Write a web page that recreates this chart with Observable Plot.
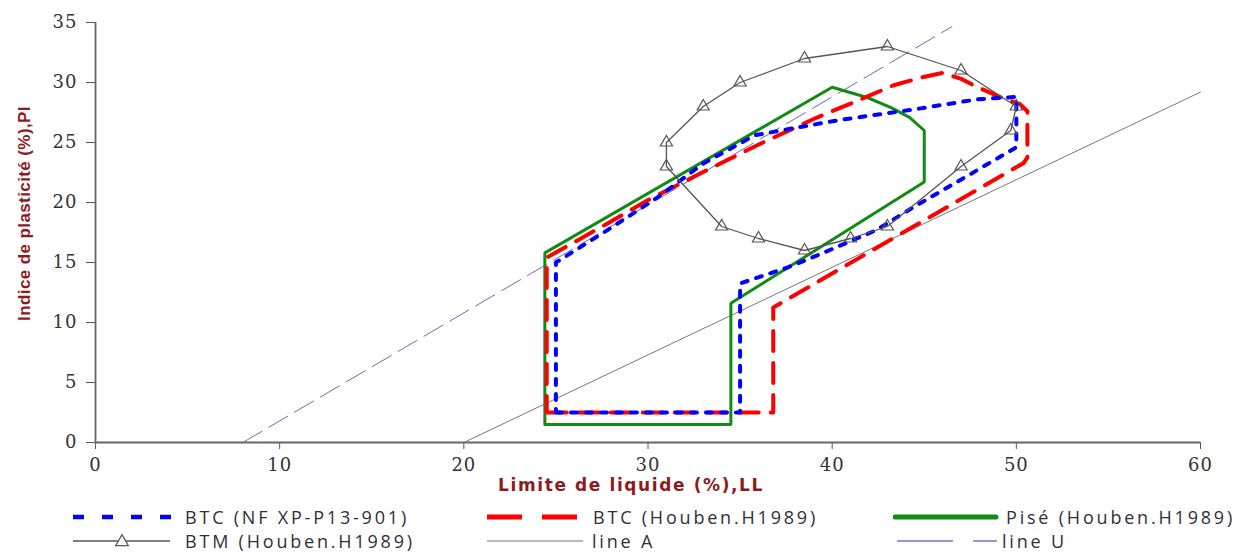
<!DOCTYPE html>
<html>
<head>
<meta charset="utf-8">
<script src="https://cdn.jsdelivr.net/npm/d3@7"></script>
<script src="https://cdn.jsdelivr.net/npm/@observablehq/plot@0.6"></script>
<style>
  html, body { margin: 0; padding: 0; background: #fff; }
  #wrap { position: relative; width: 1239px; height: 553px; overflow: hidden; }
  #legend { position: absolute; left: 0; top: 500px; width: 1239px; height: 53px;
            font-family: "Open Sans", sans-serif; font-size: 18px; color: #2f3038; letter-spacing: 2.8px; }
  .item { position: absolute; height: 24px; }
  .item svg { display: block; }
  .item span { position: absolute; white-space: nowrap; }
</style>
</head>
<body>
<div id="wrap">
  <div id="chart"></div>
  <div id="legend"></div>
</div>
<script>
// ---- Data ----
const xTicks = [0, 10, 20, 30, 40, 50, 60];
const yTicks = [0, 5, 10, 15, 20, 25, 30, 35];

// BTC (NF XP-P13-901) – blue dotted
const btcNF_LL = [25, 35, 35, 37.6, 39.2, 42.4, 44.4, 47.1, 50, 50, 47.9, 44.2, 40.5, 38.1, 35.8, 33, 30.5, 27.8, 25, 25];
const btcNF_PI = [2.5, 2.5, 13.25, 14.6, 15.6, 17.7, 19.6, 22, 24.6, 28.8, 28.6, 27.7, 26.9, 26.25, 25.6, 23.25, 20.4, 17.7, 15, 2.5];

// BTC (Houben.H1989) – red dashed
const btcH_LL = [24.5, 36.8, 36.8, 50.4, 50.6, 50.6, 50.2, 49.1, 47.9, 47, 46, 44.8, 43.3, 41.4, 39.2, 36.1, 33.2, 30, 27.8, 24.5, 24.5];
const btcH_PI = [2.5, 2.5, 11.25, 23.3, 23.75, 27.6, 28.2, 28.8, 29.6, 30.3, 30.8, 30.4, 29.75, 28.5, 27.1, 24.9, 22.7, 20.2, 18.25, 15.4, 2.5];

// Pisé (Houben.H1989) – green solid
const pise_LL = [24.4, 34.5, 34.5, 45, 45, 44.2, 43.2, 41.9, 40, 24.4, 24.4];
const pise_PI = [1.5, 1.5, 11.6, 21.7, 26, 27.1, 27.9, 28.75, 29.6, 15.8, 1.5];

// BTM (Houben.H1989) – grey line with triangles
const btm_LL = [31, 34, 36, 38.5, 41, 43, 47, 49.7, 50, 47, 43, 38.5, 35, 33, 31, 31];
const btm_PI = [23, 18, 17, 16, 17, 18, 23, 26, 28, 31, 33, 32, 30, 28, 25, 23];

// line A and line U
const lineA_LL = [20, 60];
const lineA_PI = [0, 29.2];
const lineU_LL = [8, 46.5];
const lineU_PI = [0, 34.65];

const legendLabels = ["BTC (NF XP-P13-901)", "BTC (Houben.H1989)", "Pisé (Houben.H1989)",
                      "BTM (Houben.H1989)", "line A", "line U"];

// ---- helpers ----
const rows = (xs, ys) => xs.map((x, i) => ({x, y: ys[i]}));
const btmPts = rows(btm_LL, btm_PI);
const serif = "'DejaVu Serif', 'Liberation Serif', serif";

const chart = Plot.plot({
  width: 1239,
  height: 500,
  marginLeft: 95,
  marginRight: 39,
  marginTop: 22,
  marginBottom: 58,
  x: {domain: [0, 60]},
  y: {domain: [0, 35]},
  style: {background: "#fff"},
  marks: [
    Plot.axisX({ticks: xTicks, tickSize: 7, tickPadding: 9, stroke: "#555", fill: "#333",
      fontFamily: serif, fontSize: 18, label: null}),
    Plot.axisY({ticks: yTicks, tickSize: 9, tickPadding: 9, stroke: "#555", fill: "#333",
      fontFamily: serif, fontSize: 18, label: null}),
    Plot.ruleY([0], {stroke: "#666", strokeWidth: 1.8}),
    Plot.ruleX([0], {stroke: "#666", strokeWidth: 1.8}),
    Plot.line(rows(lineA_LL, lineA_PI), {x: "x", y: "y", stroke: "#777", strokeWidth: 1}),
    Plot.line(rows(lineU_LL, lineU_PI), {x: "x", y: "y", stroke: "#6a6ab8", strokeWidth: 1, strokeDasharray: "22,8"}),
    Plot.line(rows(pise_LL, pise_PI), {x: "x", y: "y", stroke: "#138a13", strokeWidth: 3, strokeLinejoin: "miter"}),
    Plot.line(rows(btcH_LL, btcH_PI), {x: "x", y: "y", stroke: "#ff0000", strokeWidth: 4, strokeDasharray: "20,12"}),
    Plot.line(rows(btcNF_LL, btcNF_PI), {x: "x", y: "y", stroke: "#0000ff", strokeWidth: 4, strokeDasharray: "6,9"}),
    Plot.line(btmPts, {x: "x", y: "y", stroke: "#555", strokeWidth: 1.3}),
    Plot.dot(btmPts.slice(0, -1), {x: "x", y: "y", symbol: "triangle", r: 4.5, stroke: "#555", strokeWidth: 1.2, fill: "none"}),
    Plot.text(["Limite de liquide (%),LL"], {frameAnchor: "bottom", dy: 48, dx: -17, fill: "#8e1b1b",
      fontFamily: "'DejaVu Sans', sans-serif", fontWeight: "bold", fontSize: 17}),
    Plot.text(["Indice de plasticité (%),PI"], {frameAnchor: "left", textAnchor: "middle", dx: -71, dy: -19, rotate: -90,
      fill: "#8e1b1b", fontFamily: "'Liberation Sans', Arial, sans-serif", fontWeight: "bold", fontSize: 17})
  ]
});
document.getElementById("chart").appendChild(chart);
const svgSel = d3.select(chart);
svgSel.selectAll("text").filter(function() { return this.textContent.startsWith("Limite"); })
  .attr("letter-spacing", "1.6px");
svgSel.selectAll("text").filter(function() { return this.textContent.startsWith("Indice"); })
  .attr("letter-spacing", "0.4px");
svgSel.selectAll("text").filter(function() { return /^\d+$/.test(this.textContent.trim()); })
  .style("font-size", "18px").style("font-family", serif).style("letter-spacing", "1px");

// ---- Legend ----
const legend = d3.select("#legend");
const items = [
  {row: 0, sx: 73, sw: 100, tx: 185, draw: g => g.append("line").attr("x1", 0).attr("x2", 100).attr("y1", 12).attr("y2", 12)
      .attr("stroke", "#0000ff").attr("stroke-width", 4.5).attr("stroke-dasharray", "11,18")},
  {row: 0, sx: 487, sw: 90, tx: 593, draw: g => g.append("line").attr("x1", 0).attr("x2", 90).attr("y1", 12).attr("y2", 12)
      .attr("stroke", "#ff0000").attr("stroke-width", 5).attr("stroke-dasharray", "35,20")},
  {row: 0, sx: 893, sw: 106, tx: 1006, draw: g => g.append("line").attr("x1", 2).attr("x2", 103).attr("y1", 12).attr("y2", 12)
      .attr("stroke", "#138a13").attr("stroke-width", 5).attr("stroke-linecap", "round")},
  {row: 1, sx: 73, sw: 100, tx: 185, draw: g => {
      g.append("line").attr("x1", 0).attr("x2", 97).attr("y1", 12).attr("y2", 12).attr("stroke", "#555").attr("stroke-width", 1.3);
      g.append("path").attr("d", d3.symbol(d3.symbolTriangle, 70)()).attr("transform", "translate(49,13)")
        .attr("fill", "#fff").attr("stroke", "#555").attr("stroke-width", 1.2);
    }},
  {row: 1, sx: 487, sw: 100, tx: 592, draw: g => g.append("line").attr("x1", 0).attr("x2", 96).attr("y1", 12).attr("y2", 12)
      .attr("stroke", "#777").attr("stroke-width", 1.2)},
  {row: 1, sx: 897, sw: 102, tx: 1002, draw: g => g.append("line").attr("x1", 0).attr("x2", 100).attr("y1", 12).attr("y2", 12)
      .attr("stroke", "#7676c0").attr("stroke-width", 1.5).attr("stroke-dasharray", "56,20")}
];
items.forEach((it, i) => {
  const top = it.row === 0 ? 5 : 29;
  const div = legend.append("div").attr("class", "item").style("left", it.sx + "px").style("top", top + "px");
  const svg = div.append("svg").attr("width", it.sw).attr("height", 24);
  it.draw(svg);
  legend.append("div").attr("class", "item").style("left", it.tx + "px").style("top", top + "px")
    .append("span").style("top", "0px").style("line-height", "24px").text(legendLabels[i]);
});
</script>
</body>
</html>
